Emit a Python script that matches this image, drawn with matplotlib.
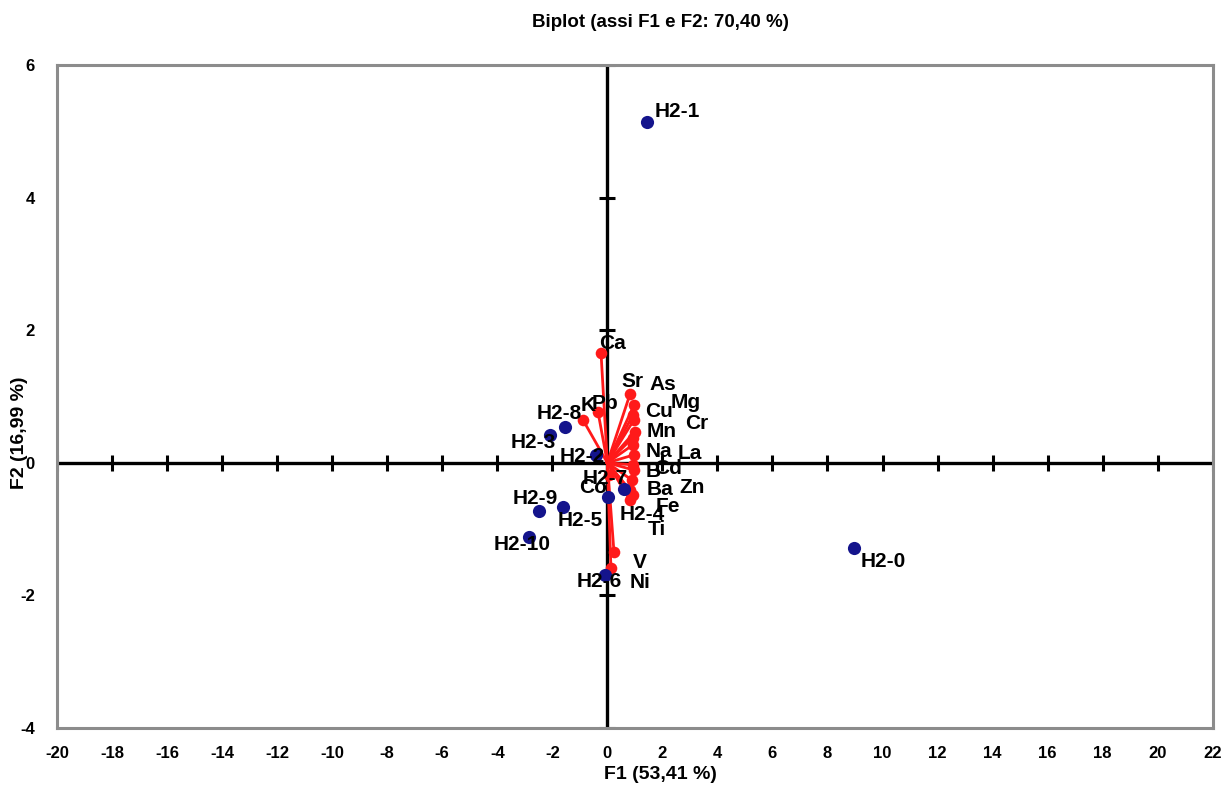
import matplotlib
matplotlib.use('Agg')
import matplotlib.pyplot as plt
import numpy as np

plt.rcParams['font.family'] = ['Liberation Sans', 'DejaVu Sans']
plt.rcParams['font.weight'] = 'bold'
plt.rcParams['axes.unicode_minus'] = False

# observations (factor scores)
obs_names = ["H2-1", "H2-0", "H2-3", "H2-8", "H2-2", "H2-9", "H2-5", "H2-10", "H2-7", "H2-4", "H2-6"]
obs_f1 = [1.44, 8.97, -2.08, -1.54, -0.43, -2.47, -1.62, -2.84, 0.03, 0.60, -0.09]
obs_f2 = [5.14, -1.28, 0.42, 0.54, 0.12, -0.73, -0.67, -1.12, -0.51, -0.40, -1.69]

# variables (loadings)
var_names = ["Ca", "Sr", "As", "Mg", "Cu", "Cr", "Mn", "Na", "La", "K", "Pb",
             "B", "Cd", "Ba", "Zn", "Fe", "Ti", "V", "Ni", "Co"]
var_f1 = [-0.23, 0.82, 0.97, 0.93, 0.97, 1.00, 0.93, 0.93, 0.97, -0.89, -0.34,
          0.93, 0.97, 0.82, 0.89, 0.93, 0.82, 0.24, 0.13, 0.05]
var_f2 = [1.66, 1.03, 0.87, 0.72, 0.65, 0.47, 0.38, 0.27, 0.12, 0.65, 0.77,
          -0.03, -0.11, -0.41, -0.26, -0.48, -0.56, -1.34, -1.58, -0.18]

xticks = np.arange(-20, 23, 2)
yticks = np.arange(-4, 7, 2)

# label offsets in pixels (right, up)
obs_off = {"H2-1": (30, 10), "H2-0": (29, -14), "H2-3": (-17, -8), "H2-8": (-6, 13),
           "H2-2": (-13, -2), "H2-9": (-4, 13), "H2-5": (17, -13), "H2-10": (-7, -7),
           "H2-7": (-3, 18), "H2-4": (18, -25), "H2-6": (-6, -7)}
var_off = {"Ca": (11, 9), "Sr": (3, 13), "As": (29, 21), "Mg": (53, 13), "Cu": (25, 8),
           "Cr": (62, 8), "Mn": (29, 6), "Na": (26, -7), "La": (56, 1), "K": (5, 14),
           "Pb": (7, 8), "B": (20, -7), "Cd": (34, 2), "Ba": (30, 0), "Zn": (60, -7),
           "Fe": (35, -12), "Ti": (27, -30), "V": (26, -11), "Ni": (29, -15), "Co": (-16, -13)}
PX = 0.72  # pixels -> points at dpi 100

fig = plt.figure(figsize=(12.25, 7.92), dpi=100)
ax = fig.add_axes([0.0465, 0.0808, 0.9435, 0.8372])
ax.set_xlim(-20, 22)
ax.set_ylim(-4, 6)

for s in ax.spines.values():
  s.set_color('#8c8c8c')
  s.set_linewidth(2.2)

# zero axes with cross ticks
ax.axhline(0, color='black', lw=2.4, zorder=2)
ax.axvline(0, color='black', lw=2.4, zorder=2)
ax.plot(xticks, np.zeros(len(xticks)), ls='none', marker='|', ms=11, mew=2.2, color='black', zorder=2)
ax.plot(np.zeros(len(yticks)), yticks, ls='none', marker='_', ms=11, mew=2.2, color='black', zorder=2)

ax.set_xticks(xticks)
ax.set_yticks(yticks)
ax.tick_params(length=0, labelsize=12, pad=13)
ax.tick_params(axis='y', pad=16)

# variable vectors
for name, x, y in zip(var_names, var_f1, var_f2):
  ax.plot([0, x], [0, y], color='#ff1a1a', lw=2, zorder=3)
ax.scatter(var_f1, var_f2, s=70, color='#ff1a1a', zorder=4, linewidths=0)
for name, x, y in zip(var_names, var_f1, var_f2):
  dx, dy = var_off[name]
  ax.annotate(name, (x, y), xytext=(dx * PX, dy * PX), textcoords='offset points',
              ha='center', va='center', fontsize=15, fontweight='bold', zorder=6)

# observations
ax.scatter(obs_f1, obs_f2, s=90, color='#14148c', zorder=5, linewidths=0)
for name, x, y in zip(obs_names, obs_f1, obs_f2):
  dx, dy = obs_off[name]
  ax.annotate(name, (x, y), xytext=(dx * PX, dy * PX), textcoords='offset points',
              ha='center', va='center', fontsize=15, fontweight='bold', zorder=6)

ax.set_xlabel("F1 (53,41 %)", fontsize=14, fontweight='bold')
ax.set_ylabel("F2 (16,99 %)", fontsize=14, fontweight='bold')
ax.xaxis.set_label_coords(0.522, -0.058)
ax.yaxis.set_label_coords(-0.025, 0.445)
fig.text(0.539, 0.972, "Biplot (assi F1 e F2: 70,40 %)", ha='center', va='center',
         fontsize=13.5, fontweight='bold')

plt.savefig('out.png', dpi=100)
